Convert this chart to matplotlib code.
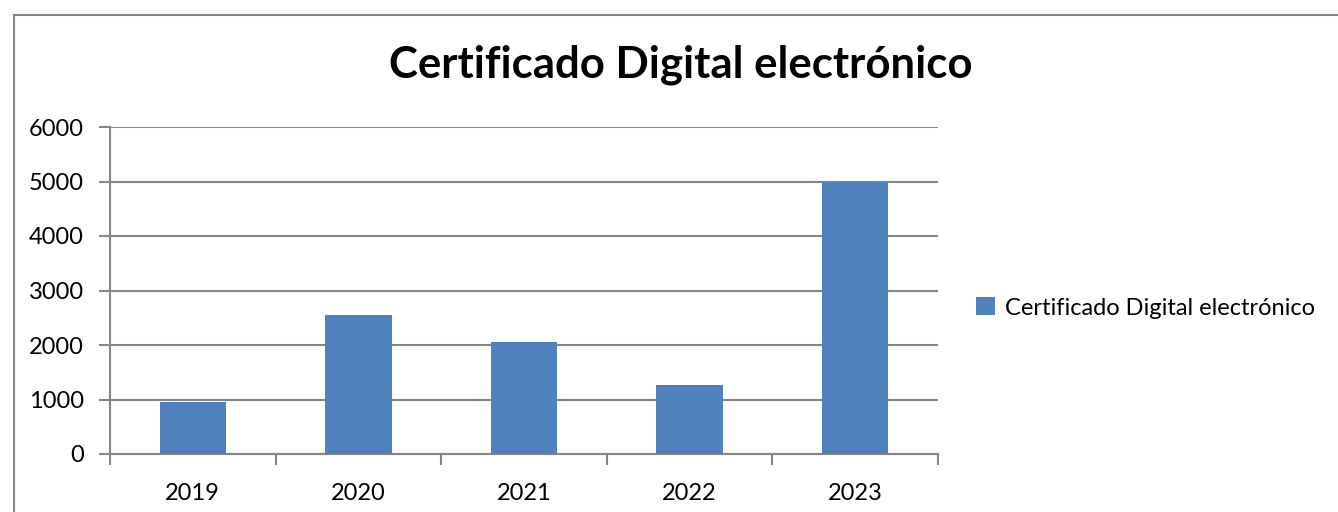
import matplotlib.pyplot as plt
from matplotlib.patches import Rectangle

years = ['2019', '2020', '2021', '2022', '2023']
values = [945, 2555, 2060, 1265, 5000]
series_name = 'Certificado Digital electrónico'
bar_color = '#4F81BD'
grid_color = '#868686'

plt.rcParams['font.family'] = ['Lato', 'DejaVu Sans']

fig = plt.figure(figsize=(13.38, 5.12), dpi=100)
W, H = 1338, 512

# outer chart-area border
fig.patches.append(Rectangle((14 / W, -0.1), 1.2, 1 - 15 / H + 0.1,
                             transform=fig.transFigure, fill=False,
                             edgecolor=grid_color, linewidth=1.5))

ax = fig.add_axes([110 / W, 1 - 454 / H, (938 - 110) / W, (454 - 127) / H])
x = range(len(years))
ax.bar(x, values, width=0.4, color=bar_color, label=series_name, zorder=3)

ax.set_xlim(-0.5, len(years) - 0.5)
ax.set_ylim(0, 6000)
ax.set_yticks(range(0, 6001, 1000))
ax.set_xticks(list(x))
ax.set_xticklabels(years)
ax.set_xticks([i - 0.5 for i in range(len(years) + 1)], minor=True)

ax.grid(axis='y', color=grid_color, linewidth=1.5, zorder=0)
for s in ['top', 'right']:
    ax.spines[s].set_visible(False)
for s in ['left', 'bottom']:
    ax.spines[s].set_color(grid_color)
    ax.spines[s].set_linewidth(1.5)

ax.tick_params(axis='y', length=8, width=1.5, color=grid_color, labelsize=17, pad=11)
ax.tick_params(axis='x', which='major', length=0, labelsize=17, pad=21)
ax.tick_params(axis='x', which='minor', length=8, width=1.5, color=grid_color)

fig.text(681 / W, 1 - 65 / H, 'Certificado Digital electrónico', ha='center',
         va='center', fontsize=31.5, fontweight='bold')

ax.legend(loc='center left', bbox_to_anchor=(955 / W, 1 - 308 / H),
          bbox_transform=fig.transFigure, frameon=False, fontsize=17,
          handlelength=0.8, handleheight=0.8, handletextpad=0.4)

fig.savefig('out.png', dpi=100)
